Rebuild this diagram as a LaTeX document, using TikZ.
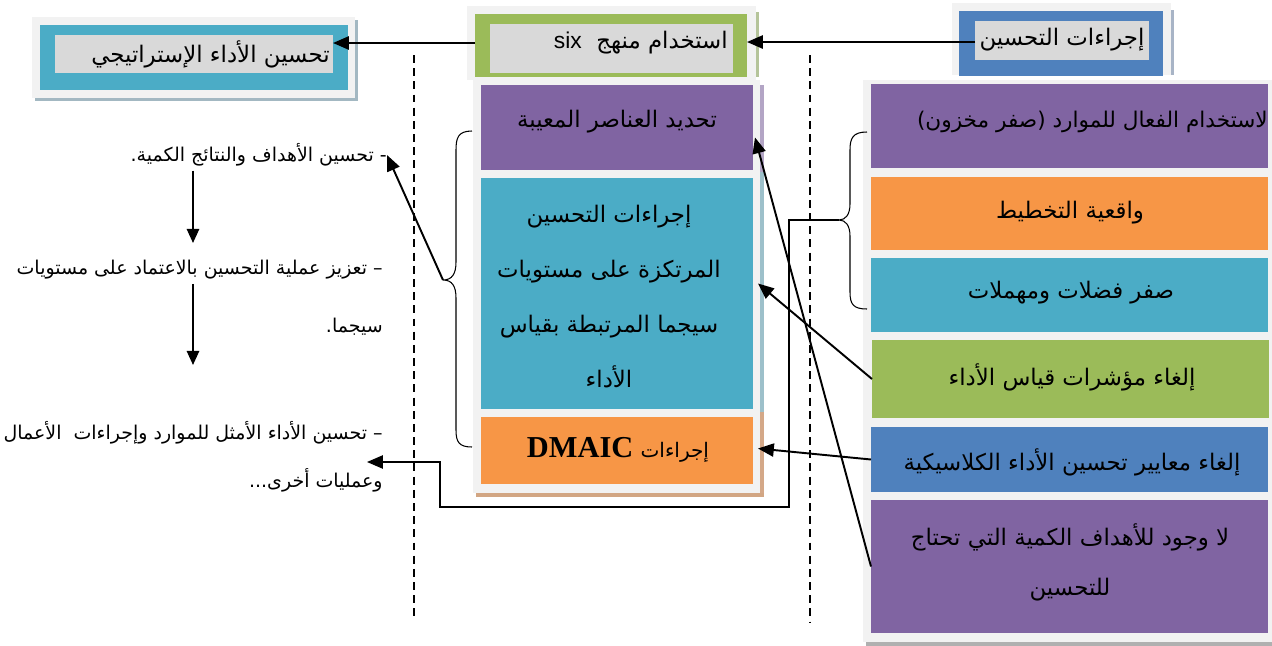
\documentclass[tikz,border=0pt]{standalone}
\usepackage{fontspec}
\usetikzlibrary{arrows.meta}
\TeXXeTstate=1
\newfontfamily\arfont[Script=Arabic]{DejaVu Sans}
\newfontfamily\lsans{Liberation Sans}
\newfontfamily\lserif{Liberation Serif}
\newcommand\AR[1]{{\arfont\beginR #1\endR}}
\definecolor{cteal}{HTML}{4BACC6}
\definecolor{cgreen}{HTML}{9BBB59}
\definecolor{cblue}{HTML}{4F81BD}
\definecolor{cpurple}{HTML}{8064A2}
\definecolor{corange}{HTML}{F79646}
\definecolor{cgray}{HTML}{D9D9D9}
\definecolor{cpanel}{HTML}{F2F2F2}
\tikzset{
  box/.style={draw=none, inner sep=0pt, outer sep=0pt},
  sz/.style 2 args={minimum width=#1*0.02cm, minimum height=#2*0.02cm},
  btxt/.style={inner sep=0pt, font=\fontsize{13}{15}\selectfont},
  ltxt/.style={inner sep=0pt, anchor=east, font=\fontsize{10.8}{13}\selectfont},
  arr/.style={-{Triangle[length=9pt,width=7.5pt]}, line width=1.1pt},
  varr/.style={-{Triangle[length=8pt,width=7pt]}, line width=1.1pt},
  dline/.style={dash pattern=on 4.5pt off 3pt, line width=0.8pt},
  brace/.style={line width=0.6pt},
}
\begin{document}
\begin{tikzpicture}[x=0.02cm, y=-0.02cm]
\useasboundingbox (0,0) rectangle (1272,646);
% shadows
\fill[fill={rgb,255:red,163;green,184;blue,194}] (35,20) rectangle (358,101);
\fill[fill={rgb,255:red,181;green,196;blue,154}] (756,12) rectangle (759,77);
\fill[fill={rgb,255:red,168;green,180;blue,198}] (1171,10) rectangle (1174,75);
\fill[fill={rgb,255:red,179;green,165;blue,197}] (760,85) rectangle (764,172);
\fill[fill={rgb,255:red,157;green,192;blue,202}] (760,172) rectangle (764,412);
\fill[fill={rgb,255:red,212;green,168;blue,136}] (760,412) rectangle (764,497);
\fill[fill={rgb,255:red,210;green,166;blue,131}] (476,493) rectangle (764,497);
\fill[fill={rgb,255:red,176;green,176;blue,176}] (866,642) rectangle (1272,646);
% top left
\node[box,fill=cpanel,sz={323}{81}] (ltp) at (193.5,57.5) {};
\node[box,fill=cteal,sz={308}{65}] (ltb) at (194,57.5) {};
\node[box,fill=cgray,sz={278}{38}] (ltg) at (194,54) {};
\node[btxt,anchor=east] (ltt) at (330,54) {\AR{تحسين الأداء الإستراتيجي}};
% top middle
\node[box,fill=cpanel,sz={289}{74}] (mtp) at (611.5,43) {};
\node[box,fill=cgreen,sz={272}{63}] (mtb) at (611,45.5) {};
\node[box,fill=cgray,sz={243}{49}] (mtg) at (611.5,48.5) {};
\node[btxt,anchor=east] (mtt) at (728,43) {\AR{استخدام منهج \ \beginL{\lsans six}\endL}};
% top right
\node[box,fill=cpanel,sz={219}{72}] (rtp) at (1061.5,39) {};
\node[box,fill=cblue,sz={204}{65}] (rtb) at (1061,43.5) {};
\node[box,fill=cgray,sz={174}{39}] (rtg) at (1062,40.5) {};
\node[btxt] (rtt) at (1062,40) {\AR{إجراءات التحسين}};
% middle column
\node[box,fill=cpanel,sz={287}{413}] (mcp) at (616.5,286.5) {};
\node[box,fill=cpurple,sz={272}{85}] (pc) at (617,127.5) {};
\node[box,fill=cteal,sz={272}{231}] (tc) at (617,293.5) {};
\node[box,fill=corange,sz={272}{67}] (oc) at (617,450.5) {};
\node[btxt] (pct) at (617,122) {\AR{تحديد العناصر المعيبة}};
\node[btxt,align=center,font=\fontsize{13}{31.3}\selectfont] (tct) at (609,296.5)
  {\AR{إجراءات التحسين}\\\AR{المرتكزة على مستويات}\\\AR{سيجما المرتبطة بقياس}\\\AR{الأداء}};
\node[btxt] (oct) at (618,450) {\AR{{\fontsize{11.4}{13}\selectfont إجراءات} \beginL{\lserif\bfseries\fontsize{17.3}{19}\selectfont DMAIC}\endL}};
% right column
\node[box,fill=cpanel,sz={409}{562}] (rcp) at (1067.5,361) {};
\node[box,fill=cpurple,sz={397}{84}] (r1) at (1069.5,126) {};
\node[box,fill=corange,sz={397}{73}] (r2) at (1069.5,213.5) {};
\node[box,fill=cteal,sz={397}{74}] (r3) at (1069.5,295) {};
\node[box,fill=cgreen,sz={397}{78}] (r4) at (1070.5,379) {};
\node[box,fill=cblue,sz={397}{65}] (r5) at (1069.5,459.5) {};
\node[box,fill=cpurple,sz={397}{133}] (r6) at (1069.5,566.5) {};
\node[btxt,anchor=east,font=\fontsize{12.3}{15}\selectfont] (r1t) at (1268,122) {\AR{لاستخدام الفعال للموارد (صفر مخزون)}};
\node[btxt] (r2t) at (1070,213) {\AR{واقعية التخطيط}};
\node[btxt] (r3t) at (1071,293) {\AR{صفر فضلات ومهملات}};
\node[btxt] (r4t) at (1072,377) {\AR{إلغاء مؤشرات قياس الأداء}};
\node[btxt] (r5t) at (1072,462) {\AR{إلغاء معايير تحسين الأداء الكلاسيكية}};
\node[btxt,align=center,font=\fontsize{13}{28.5}\selectfont] (r6t) at (1070,562)
  {\AR{لا وجود للأهداف الكمية التي تحتاج}\\\AR{للتحسين}};
% left texts
\node[ltxt] (t1) at (387,155) {\AR{- تحسين الأهداف والنتائج الكمية.}};
\node[ltxt] (t2a) at (383,270) {\AR{– تعزيز عملية التحسين بالاعتماد على مستويات}};
\node[ltxt] (t2b) at (383,327) {\AR{سيجما.}};
\node[ltxt] (t3a) at (383,433) {\AR{– تحسين الأداء الأمثل للموارد وإجراءات \ الأعمال}};
\node[ltxt] (t3b) at (383,480) {\AR{وعمليات أخرى...}};
% dashed lines
\coordinate (d1a) at (414,55); \coordinate (d1b) at (414,620);
\coordinate (d2a) at (810,55); \coordinate (d2b) at (810,622);
\draw[dline] (d1a) -- (d1b);
\draw[dline] (d2a) -- (d2b);
% braces
\coordinate (bl) at (443,280);
\coordinate (br) at (839,220);
\draw[brace] (472,131) .. controls (458,131) and (456,138) .. (456,150) -- (456,262)
  .. controls (456,274) and (452,280) .. (bl)
  .. controls (452,280) and (456,286) .. (456,298) -- (456,430)
  .. controls (456,442) and (459,447) .. (472,447);
\draw[brace] (867,132) .. controls (853,132) and (850,138) .. (850,150) -- (850,204)
  .. controls (850,214) and (846,220) .. (br)
  .. controls (846,220) and (850,226) .. (850,236) -- (850,292)
  .. controls (850,304) and (853,309) .. (867,309);
% connectors
\draw[arr] (rtg.west |- 0,42) -- (mtb.east |- 0,42);
\draw[arr] (mtb.west |- 0,43) -- (ltg.east |- 0,43);
\draw[arr] (bl) -- (t1.east);
\coordinate (a1e) at (193,243);
\coordinate (a2e) at (193,365);
\coordinate (a3e) at (367,462);
\draw[varr] (193,0 |- t1.south) ++(0,4) -- (a1e);
\draw[varr] (193,0 |- t2a.south) ++(0,4) -- (a2e);
\draw[line width=0.9pt, -{Triangle[length=9pt,width=7.5pt]}] (br) -- (789,220) |- (440,507) |- (a3e);
\draw[arr] (r4.west) -- ([shift={(5,-10)}]tc.east);
\draw[arr] (r5.west) -- ([shift={(5,-2)}]oc.east);
\draw[arr] (r6.west) -- ([shift={(2,10)}]pc.east);
\end{tikzpicture}
\end{document}
